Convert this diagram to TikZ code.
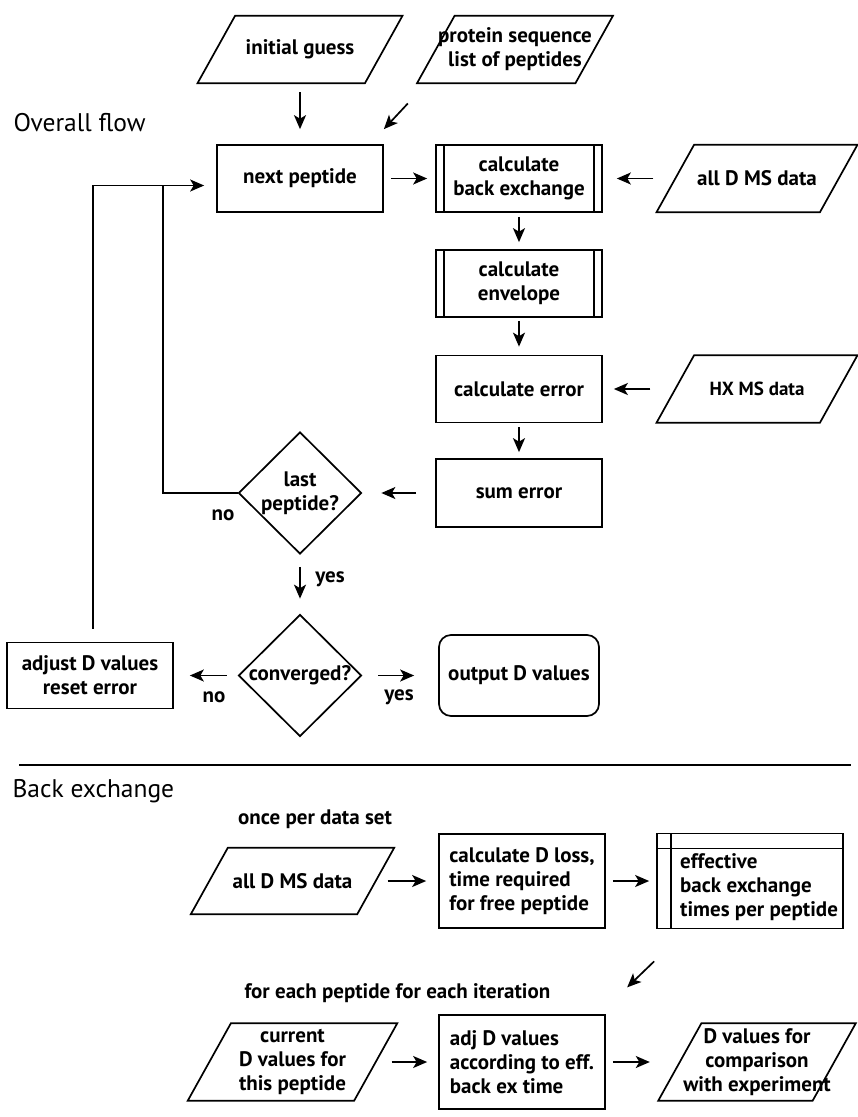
\documentclass[tikz,border=0pt]{standalone}
\usepackage{fontspec}
\setmainfont{PT Sans}
\usetikzlibrary{shapes.geometric,arrows.meta}
\tikzset{
  every node/.append style={font=\bfseries\fontsize{21}{24}\selectfont},
  title/.style={font=\fontsize{25.5}{30}\selectfont},
  box/.style={draw, line width=1.7pt, minimum width=166pt, minimum height=67pt, inner sep=3pt, align=center},
  subproc/.style={box, path picture={
      \draw[line width=1.7pt] ([xshift=8pt]path picture bounding box.north west) -- ([xshift=8pt]path picture bounding box.south west);
      \draw[line width=1.7pt] ([xshift=-8pt]path picture bounding box.north east) -- ([xshift=-8pt]path picture bounding box.south east);}},
  store/.style={draw, line width=1.7pt, minimum width=186pt, minimum height=95pt, path picture={
      \draw[line width=1.7pt] ([xshift=14pt]path picture bounding box.north west) -- ([xshift=14pt]path picture bounding box.south west);
      \draw[line width=1.7pt] ([yshift=-15pt]path picture bounding box.north west) -- ([yshift=-15pt]path picture bounding box.north east);}},
  % parallelogram: #1 = middle width, #2 = height
  io/.style 2 args={rectangle, minimum width=#1, minimum height=#2, inner sep=0pt, align=center,
      append after command={\pgfextra{\draw[line width=1.7pt, line join=miter]
        ([xshift=-0.28*#2]\tikzlastnode.south west) -- ([xshift=-0.28*#2]\tikzlastnode.south east)
        -- ([xshift=0.28*#2]\tikzlastnode.north east) -- ([xshift=0.28*#2]\tikzlastnode.north west) -- cycle;}}},
  decide/.style={draw, line width=1.7pt, diamond, minimum width=123pt, minimum height=122pt, inner sep=-6pt, align=center},
  flow/.style={line width=1.7pt, -{Stealth[length=14pt,width=12pt,inset=3.5pt]}},
}
\begin{document}
\begin{tikzpicture}[x=1pt,y=-1pt]
  \useasboundingbox (0,0) rectangle (858,1117);
  % overall flow
  \node[title, anchor=base west] (ovtitle) at (10,131) {Overall flow};
  \node[io={167pt}{67pt}] (guess) at (300,49.5) {initial guess};
  \node[io={158pt}{67pt}] (protein) at (515,49.5) {protein sequence\\list of peptides};
  \node[box] (next) at (300,178.5) {next peptide};
  \node[subproc] (backex) at (519,178.5) {calculate\\back exchange};
  \node[io={163pt}{67pt}] (alld) at (757,178.5) {all D MS data};
  \node[subproc] (envelope) at (519,283.5) {calculate\\envelope};
  \node[box] (error) at (519,389) {calculate error};
  \node[io={163pt}{67pt}, font=\bfseries\fontsize{19}{22}\selectfont] (hxms) at (757,389) {HX MS data};
  \node[box, minimum height=68pt] (sumerr) at (519,493) {sum error};
  \node[decide] (last) at (300,493) {last\\peptide?};
  \node[decide] (conv) at (300,675.5) {converged?};
  \node[box, minimum height=66pt] (adjust) at (90,675.5) {adjust D values\\reset error};
  \node[box, rounded corners=12pt, minimum width=160pt, minimum height=81pt] (output) at (519,675.5) {output D values};
  \node (nolast) at (223,515) {no};
  \node (yeslast) at (330,579) {yes};
  \node (noconv) at (214,697) {no};
  \node (yesconv) at (399,697) {yes};
  \coordinate (protout) at ([shift={(-28,54)}]protein.west);
  \coordinate (protin) at ([shift={(0,-15)}]next.north east);
  \coordinate (nojoin) at (163,186);
  \draw[flow, shorten <=9pt, shorten >=15pt] (guess) -- (next);
  \draw[flow] (protout) -- (protin);
  \draw[flow, shorten <=7pt, shorten >=8pt] (next) -- (backex);
  \draw[flow, shorten <=22pt, shorten >=14pt] (alld) -- (backex);
  \draw[flow, shorten <=4pt, shorten >=7pt] (backex) -- (envelope);
  \draw[flow, shorten <=3pt, shorten >=8pt] (envelope) -- (error);
  \draw[flow, shorten <=25pt, shorten >=11pt] (hxms) -- (error);
  \draw[flow, shorten <=4pt, shorten >=6pt] (error) -- (sumerr);
  \draw[flow, shorten <=19pt, shorten >=19pt] (sumerr) -- (last);
  \draw[flow, shorten <=12pt, shorten >=15pt] (last) -- (conv);
  \draw[flow, shorten <=11pt, shorten >=16pt] (conv) -- (adjust);
  \draw[flow, shorten <=16pt, shorten >=24pt] (conv) -- (output);
  \draw[line width=1.7pt] (last.west) -| (nojoin);
  \draw[flow, shorten >=12pt] ([shift={(3,-13)}]adjust.north) |- ([shift={(0,7)}]next.west);
  \draw[line width=1.7pt] (19,765) -- (851,765);
  % back exchange
  \node[title, anchor=base west] (bxtitle) at (9,797) {Back exchange};
  \node (onceper) at (315,819) {once per data set};
  \node[io={166pt}{66pt}] (alld2) at (292.5,881) {all D MS data};
  \node[box, minimum height=94pt, align=left] (dloss) at (522,881) {calculate D loss,\\time required\\for free peptide};
  \node[store] (eff) at (750,881) {};
  \node[anchor=west, align=left, inner sep=0pt] (efftext) at (680,887) {effective\\back exchange\\times per peptide};
  \coordinate (efftail) at ([shift={(-2,32)}]eff.south west);
  \coordinate (efftip) at ([shift={(-29,58)}]eff.south west);
  \draw[flow, shorten <=12pt, shorten >=12pt] (alld2) -- (dloss);
  \draw[flow, shorten <=7pt, shorten >=7pt] (dloss) -- (eff);
  \draw[flow] (efftail) -- (efftip);
  \node[anchor=west] (eachpep) at (241,993) {for each peptide for each iteration};
  \node[io={166pt}{77pt}] (curr) at (292.5,1062) {current\\D values for\\this peptide};
  \node[box, minimum height=94pt, align=left] (adjd) at (522,1062) {adj D values\\according to eff.\\back ex time};
  \node[io={154pt}{77pt}] (dcomp) at (757,1062) {D values for\\comparison\\with experiment};
  \draw[flow, shorten <=16pt, shorten >=11pt] (curr) -- (adjd);
  \draw[flow, shorten <=7pt, shorten >=30pt] (adjd) -- (dcomp);
\end{tikzpicture}
\end{document}
